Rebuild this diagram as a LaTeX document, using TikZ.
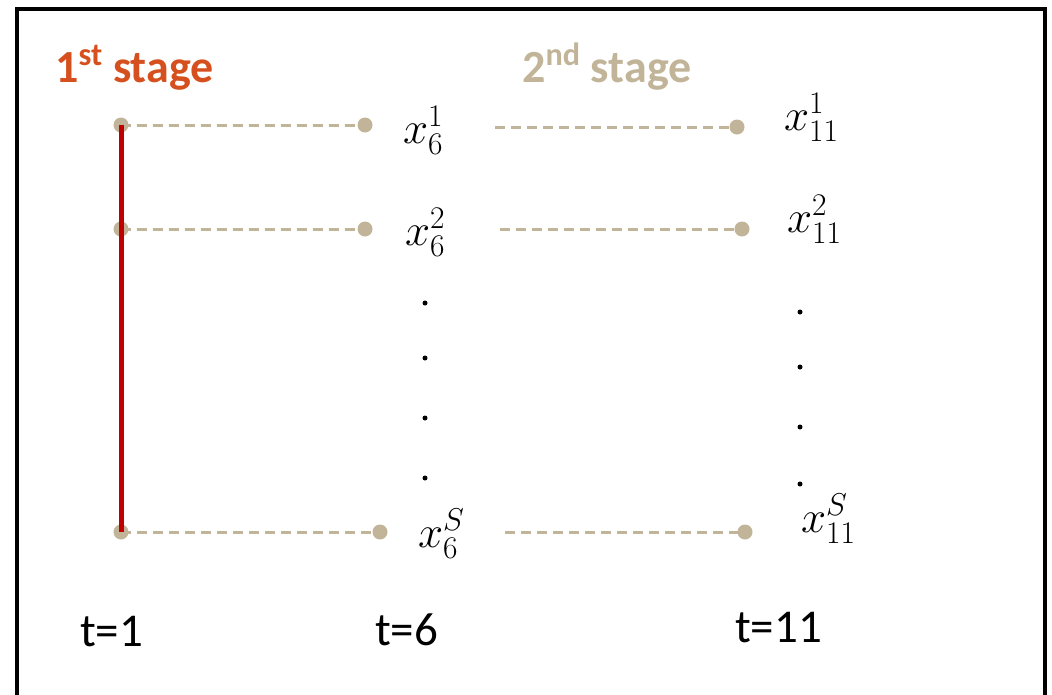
\RequirePackage{fix-cm}
\documentclass[tikz,border=0pt]{standalone}
\usepackage{fontspec}
\setmainfont{Carlito}
\usetikzlibrary{positioning}
\definecolor{stageone}{RGB}{213,80,30}
\definecolor{stagetwo}{RGB}{193,180,152}
\definecolor{firstred}{RGB}{192,0,0}
\tikzset{
dot/.style={
    circle,
    fill=stagetwo,
    inner sep=0pt,
    minimum size=15pt
},
vdot/.style={circle, fill=black, inner sep=0pt, minimum size=5pt},
link/.style={stagetwo, line width=3pt, dash pattern=on 10pt off 6pt},
scen/.style={inner sep=0pt, anchor=base west, font=\fontsize{45}{48}\selectfont},
timelab/.style={inner sep=0pt, anchor=base west, font=\fontsize{47}{50}\selectfont},
stagelab/.style={inner sep=0pt, anchor=base west, font=\fontsize{46}{48}\selectfont\bfseries}
}

\begin{document}
\begin{tikzpicture}[x=1pt, y=-1pt]
    \useasboundingbox (0,0) rectangle (1052,694);

    % frame, open at the bottom
    \draw[line width=4pt] (17,710) -- (17,9) -- (1045,9) -- (1045,710);

    % stage titles
    \node[stagelab, text=stageone] (st1) at (55,82) {1\textsuperscript{st} stage};
    \node[stagelab, text=stagetwo] (st2) at (522,82) {2\textsuperscript{nd} stage};

    % node placement
    \node[dot] (a1) at (121,125) {};
    \node[dot] (a2) at (121,229) {};
    \node[dot] (aS) at (121,532) {};

    \node[dot] (b1) at (365,125) {};
    \node[dot] (b2) at (365,229) {};
    \node[dot] (bS) at (380,532) {};

    \node[dot] (c1) at (737,127) {};
    \node[dot] (c2) at (742,229) {};
    \node[dot] (cS) at (745,532) {};

    \node[scen] (x61) at (403,143) {$x_6^1$};
    \node[scen] (x62) at (405,245) {$x_6^2$};
    \node[scen] (x6S) at (418,547) {$x_6^S$};

    \node[scen] (x111) at (784,130) {$x_{11}^1$};
    \node[scen] (x112) at (787,232) {$x_{11}^2$};
    \node[scen] (x11S) at (801,532) {$x_{11}^S$};

    \foreach \y [count=\i] in {303,358,418,478}
        \node[vdot] (l\i) at (425,\y) {};
    \foreach \y [count=\i] in {312,367,427,484}
        \node[vdot] (r\i) at (800,\y) {};

    \node[timelab] (t1) at (80,646) {t=1};
    \node[timelab] (t6) at (375,645) {t=6};
    \node[timelab] (t11) at (735,642) {t=11};

    \coordinate (s1) at (495,127);
    \coordinate (s2) at (500,229);
    \coordinate (sS) at (505,532);

    % edges
    \draw[link] (a1.center) -- (b1.center);
    \draw[link] (a2.center) -- (b2.center);
    \draw[link] (aS.center) -- (bS.center);
    \draw[link] (s1) -- (c1.center);
    \draw[link] (s2) -- (c2.center);
    \draw[link] (sS) -- (cS.center);

    \draw[firstred, line width=5pt] (a1.center) -- (aS.center);

\end{tikzpicture}
\end{document}
